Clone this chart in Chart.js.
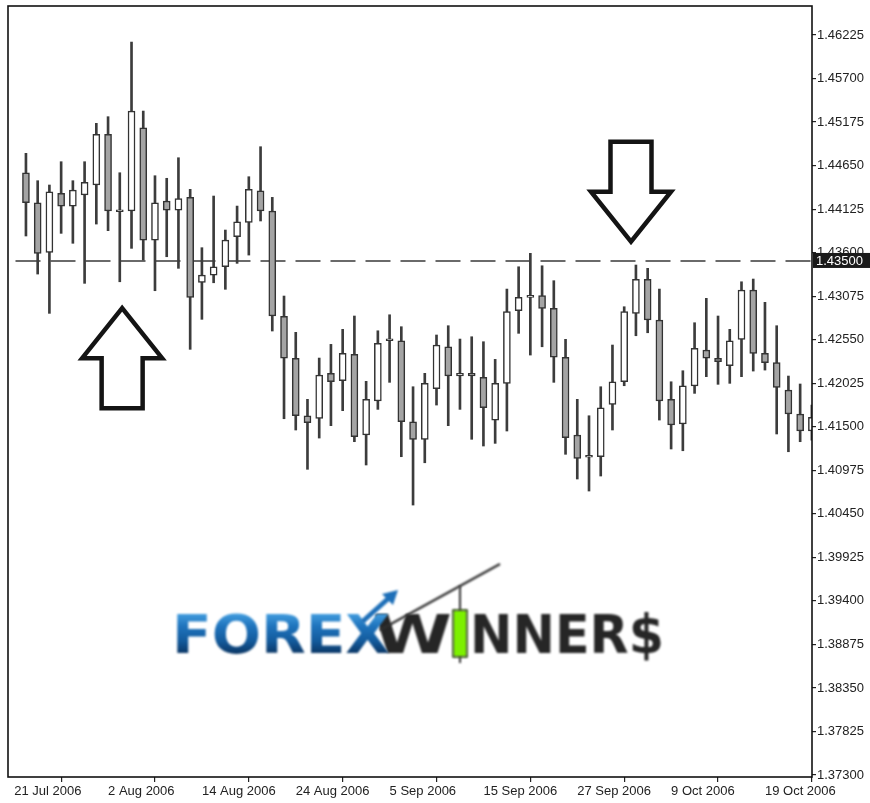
<!DOCTYPE html>
<html>
<head>
<meta charset="utf-8">
<script src="https://cdn.jsdelivr.net/npm/chart.js@4.4.1/dist/chart.umd.min.js"></script>
<style>
  html, body { margin: 0; padding: 0; background: #fff; }
</style>
</head>
<body>
<canvas id="chart" width="870" height="803"></canvas>
<script>
// trading days (first one is off the left edge, no candle drawn)
const dates = [
  "21 Jul 2006", "24 Jul 2006", "25 Jul 2006", "26 Jul 2006", "27 Jul 2006", "28 Jul 2006", "31 Jul 2006",
  "1 Aug 2006", "2 Aug 2006", "3 Aug 2006", "4 Aug 2006", "7 Aug 2006", "8 Aug 2006", "9 Aug 2006",
  "10 Aug 2006", "11 Aug 2006", "14 Aug 2006", "15 Aug 2006", "16 Aug 2006", "17 Aug 2006", "18 Aug 2006",
  "21 Aug 2006", "22 Aug 2006", "23 Aug 2006", "24 Aug 2006", "25 Aug 2006", "28 Aug 2006", "29 Aug 2006",
  "30 Aug 2006", "31 Aug 2006", "1 Sep 2006", "4 Sep 2006", "5 Sep 2006", "6 Sep 2006", "7 Sep 2006",
  "8 Sep 2006", "11 Sep 2006", "12 Sep 2006", "13 Sep 2006", "14 Sep 2006", "15 Sep 2006", "18 Sep 2006",
  "19 Sep 2006", "20 Sep 2006", "21 Sep 2006", "22 Sep 2006", "25 Sep 2006", "26 Sep 2006", "27 Sep 2006",
  "28 Sep 2006", "29 Sep 2006", "2 Oct 2006", "3 Oct 2006", "4 Oct 2006", "5 Oct 2006", "6 Oct 2006",
  "9 Oct 2006", "10 Oct 2006", "11 Oct 2006", "12 Oct 2006", "13 Oct 2006", "16 Oct 2006", "17 Oct 2006",
  "18 Oct 2006", "19 Oct 2006", "20 Oct 2006", "23 Oct 2006", "24 Oct 2006", "25 Oct 2006"
];

const opens = [null,
  1.44564, 1.44202, 1.43604, 1.44316, 1.44162, 1.44295, 1.44416, 1.45027, 1.44094, 1.44102,
  1.45107, 1.43752, 1.44223, 1.44114, 1.44267, 1.43242, 1.43330, 1.43430, 1.43792, 1.43966,
  1.44347, 1.44102, 1.42832, 1.42326, 1.41633, 1.41602, 1.42145, 1.42055, 1.42374, 1.41401,
  1.41811, 1.42538, 1.42538, 1.41561, 1.41349, 1.41959, 1.42465, 1.42112, 1.42145, 1.42096,
  1.41581, 1.42024, 1.42900, 1.43061, 1.43081, 1.42929, 1.42338, 1.41401, 1.41132, 1.41139,
  1.41771, 1.42043, 1.42868, 1.43278, 1.42788, 1.41831, 1.41533, 1.41992, 1.42426, 1.42326,
  1.42236, 1.42555, 1.43149, 1.42386, 1.42273, 1.41943, 1.41654, 1.41449
];
const highs = [null,
  1.44798, 1.44468, 1.44416, 1.44697, 1.44468, 1.44697, 1.45160, 1.45240, 1.44564, 1.46140,
  1.45308, 1.44528, 1.44497, 1.44745, 1.44364, 1.43660, 1.44283, 1.43873, 1.44162, 1.44516,
  1.44878, 1.44267, 1.43077, 1.42639, 1.41831, 1.42329, 1.42494, 1.42675, 1.42836, 1.42048,
  1.42658, 1.42851, 1.42707, 1.41983, 1.42145, 1.42607, 1.42719, 1.42558, 1.42586, 1.42526,
  1.42313, 1.43161, 1.43430, 1.43592, 1.43442, 1.43262, 1.42555, 1.41831, 1.41633, 1.41983,
  1.42486, 1.42948, 1.43451, 1.43411, 1.43161, 1.42043, 1.42176, 1.42755, 1.43049, 1.42836,
  1.42675, 1.43249, 1.43282, 1.43001, 1.42719, 1.42112, 1.42016, 1.41762
];
const lows = [null,
  1.43801, 1.43342, 1.42868, 1.43833, 1.43713, 1.43230, 1.43945, 1.43865, 1.43249, 1.43652,
  1.43511, 1.43141, 1.43551, 1.43411, 1.42434, 1.42796, 1.43237, 1.43158, 1.43471, 1.43571,
  1.43982, 1.42655, 1.41597, 1.41461, 1.40987, 1.41364, 1.41513, 1.41694, 1.41320, 1.41039,
  1.41710, 1.42036, 1.41139, 1.40556, 1.41066, 1.41762, 1.41513, 1.41710, 1.41349, 1.41268,
  1.41300, 1.41449, 1.42627, 1.42365, 1.42465, 1.42036, 1.41168, 1.40870, 1.40725, 1.40906,
  1.41461, 1.41995, 1.42598, 1.42634, 1.41581, 1.41232, 1.41211, 1.41903, 1.42104, 1.42012,
  1.42024, 1.42104, 1.42172, 1.42184, 1.41413, 1.41199, 1.41320, 1.41340
];
const closes = [null,
  1.44202, 1.43592, 1.44335, 1.44162, 1.44355, 1.44448, 1.45027, 1.44102, 1.44094, 1.45308,
  1.43752, 1.44202, 1.44114, 1.44251, 1.43061, 1.43330, 1.43430, 1.43752, 1.43973, 1.44364,
  1.44102, 1.42836, 1.42326, 1.41633, 1.41549, 1.42124, 1.42043, 1.42386, 1.41380, 1.41831,
  1.42507, 1.42538, 1.41561, 1.41349, 1.42024, 1.42486, 1.42112, 1.42145, 1.42112, 1.41730,
  1.42024, 1.42888, 1.43061, 1.43061, 1.42929, 1.42341, 1.41368, 1.41119, 1.41132, 1.41730,
  1.42043, 1.42888, 1.43278, 1.42788, 1.41811, 1.41521, 1.41995, 1.42446, 1.42326, 1.42285,
  1.42538, 1.43149, 1.42386, 1.42273, 1.41976, 1.41654, 1.41449, 1.41614
];

const xTickLabels = ["21 Jul 2006", "2 Aug 2006", "14 Aug 2006", "24 Aug 2006", "5 Sep 2006",
  "15 Sep 2006", "27 Sep 2006", "9 Oct 2006", "19 Oct 2006"];
const yTicks = [1.46225, 1.45700, 1.45175, 1.44650, 1.44125, 1.43600, 1.43075, 1.42550, 1.42025,
  1.41500, 1.40975, 1.40450, 1.39925, 1.39400, 1.38875, 1.38350, 1.37825, 1.37300];
const levelPrice = 1.43500;

// arrows anchored at their tips (bar position, price)
const upArrow = { x: 9.2, price: 1.4293 };
const downArrow = { x: 52.58, price: 1.43732 };

const bodies = [];
const wicks = [];
opens.forEach((o, i) => {
  if (o === null) return;
  bodies.push({ x: i, y: [o, closes[i]] });
  wicks.push({ x: i, y: [lows[i], highs[i]] });
});

// draws text squeezed/stretched to fit between x0 and x1, baseline at base
function fitText(ctx, text, x0, x1, base, fill) {
  const w = ctx.measureText(text).width;
  ctx.save();
  ctx.translate(x0, base);
  ctx.scale((x1 - x0) / w, 1);
  ctx.fillStyle = typeof fill === "function" ? fill(ctx) : fill;
  ctx.fillText(text, 0, 0);
  ctx.restore();
}

function drawArrow(ctx, tx, ty, dir) {
  // dir = -1 points up, 1 points down
  const headW = 40, shaftW = 20.5, headL = 50, len = 100;
  ctx.beginPath();
  ctx.moveTo(tx, ty);
  ctx.lineTo(tx - headW, ty - dir * headL);
  ctx.lineTo(tx - shaftW, ty - dir * headL);
  ctx.lineTo(tx - shaftW, ty - dir * len);
  ctx.lineTo(tx + shaftW, ty - dir * len);
  ctx.lineTo(tx + shaftW, ty - dir * headL);
  ctx.lineTo(tx + headW, ty - dir * headL);
  ctx.closePath();
  ctx.fillStyle = "#fff";
  ctx.fill();
  ctx.lineWidth = 4.5;
  ctx.lineJoin = "miter";
  ctx.strokeStyle = "#141414";
  ctx.stroke();
}

function drawLogo(ctx) {
  ctx.save();
  ctx.filter = "blur(0.8px)";
  ctx.font = "bold 54px 'DejaVu Sans'";
  ctx.textBaseline = "alphabetic";
  const base = 653;

  fitText(ctx, "W", 373, 452, base, "#262626");
  fitText(ctx, "NNER$", 470, 664, base, "#262626");

  // gradient in the text's local coords (baseline = 0)
  fitText(ctx, "FOREX", 172, 390, base, c => {
    const g = c.createLinearGradient(0, -42, 0, 1);
    g.addColorStop(0, "#4aa6e6");
    g.addColorStop(0.35, "#1f74bd");
    g.addColorStop(0.7, "#135a9c");
    g.addColorStop(1, "#0a3563");
    return g;
  });

  // little blue arrow out of the X
  ctx.strokeStyle = "#1d6fb8";
  ctx.lineWidth = 5;
  ctx.beginPath();
  ctx.moveTo(362, 622);
  ctx.lineTo(390, 597);
  ctx.stroke();
  ctx.fillStyle = "#1d6fb8";
  ctx.beginPath();
  ctx.moveTo(398, 590);
  ctx.lineTo(382, 594);
  ctx.lineTo(393, 605);
  ctx.closePath();
  ctx.fill();

  // trend line
  ctx.strokeStyle = "#303030";
  ctx.lineWidth = 2.5;
  ctx.beginPath();
  ctx.moveTo(380, 630);
  ctx.lineTo(500, 564);
  ctx.stroke();

  // green candle as the "I"
  ctx.lineWidth = 2;
  ctx.beginPath();
  ctx.moveTo(460, 586);
  ctx.lineTo(460, 663);
  ctx.stroke();
  ctx.fillStyle = "#7cf000";
  ctx.fillRect(453, 610, 14, 47);
  ctx.lineWidth = 1.5;
  ctx.strokeRect(453, 610, 14, 47);
  ctx.restore();
}

const overlay = {
  id: "overlay",
  beforeDatasetsDraw(chart) {
    const { ctx, chartArea: a, scales: { y } } = chart;
    const py = y.getPixelForValue(levelPrice);
    ctx.save();
    ctx.strokeStyle = "#3a3a3a";
    ctx.lineWidth = 1.5;
    ctx.setLineDash([25, 10]);
    ctx.lineDashOffset = 27.5;
    ctx.beginPath();
    ctx.moveTo(a.left, py);
    ctx.lineTo(a.right, py);
    ctx.stroke();
    ctx.restore();
  },
  afterDatasetsDraw(chart) {
    const { ctx, scales: { x, y } } = chart;
    ctx.save();
    drawArrow(ctx, x.getPixelForValue(upArrow.x), y.getPixelForValue(upArrow.price), -1);
    drawArrow(ctx, x.getPixelForValue(downArrow.x), y.getPixelForValue(downArrow.price), 1);
    ctx.restore();
    drawLogo(ctx);
  },
  afterDraw(chart) {
    const { ctx, chartArea: a, scales: { y } } = chart;
    ctx.save();
    ctx.strokeStyle = "#111";
    ctx.lineWidth = 1.6;
    ctx.strokeRect(a.left, a.top, a.right - a.left, a.bottom - a.top);

    // current level label on the price axis
    const py = y.getPixelForValue(levelPrice);
    ctx.fillStyle = "#1a1a1a";
    ctx.fillRect(a.right + 1, py - 8, 870 - a.right, 15);
    ctx.fillStyle = "#fff";
    ctx.font = "13px 'Liberation Sans'";
    ctx.textBaseline = "middle";
    ctx.fillText(levelPrice.toFixed(5), a.right + 4, py);
    ctx.restore();
  }
};

new Chart(document.getElementById("chart"), {
  type: "bar",
  data: {
    datasets: [
      {
        label: "body",
        data: bodies,
        order: 1,
        grouped: false,
        barThickness: 7,
        minBarLength: 2,
        borderWidth: 1.5,
        borderSkipped: false,
        borderColor: "#333",
        backgroundColor: ctx => {
          const r = ctx.raw;
          return r && r.y[1] >= r.y[0] ? "#ffffff" : "#a4a4a4";
        }
      },
      {
        label: "wick",
        data: wicks,
        order: 2,
        grouped: false,
        barThickness: 2,
        borderWidth: 0,
        backgroundColor: "#3c3c3c"
      }
    ]
  },
  options: {
    responsive: false,
    animation: false,
    layout: { padding: { left: 8, top: 6, right: 0, bottom: 0 } },
    plugins: { legend: { display: false }, tooltip: { enabled: false } },
    scales: {
      x: {
        type: "linear",
        min: -0.53,
        max: 68.01,
        offset: false,
        afterBuildTicks: scale => {
          scale.ticks = xTickLabels.map(l => ({ value: dates.indexOf(l) }));
        },
        afterFit: scale => {
          scale.height = 26;
          scale.paddingLeft = 0;
          scale.paddingRight = 0;
        },
        border: { display: false },
        grid: { drawOnChartArea: false, drawTicks: true, tickLength: 5, color: "#222", lineWidth: 1.2 },
        ticks: {
          autoSkip: false,
          maxRotation: 0,
          align: "start",
          padding: 2,
          color: "#222",
          font: { family: "'Liberation Sans'", size: 13 },
          callback: v => dates[v]
        }
      },
      y: {
        position: "right",
        min: 1.37276,
        max: 1.46575,
        afterBuildTicks: scale => {
          scale.ticks = yTicks.map(v => ({ value: v }));
        },
        afterFit: scale => {
          scale.width = 58;
          scale.paddingTop = 0;
          scale.paddingBottom = 0;
        },
        border: { display: false },
        grid: { drawOnChartArea: false, drawTicks: true, tickLength: 4, color: "#222", lineWidth: 1.2 },
        ticks: {
          padding: 1,
          color: "#222",
          font: { family: "'Liberation Sans'", size: 13 },
          callback: v => v.toFixed(5)
        }
      }
    }
  },
  plugins: [overlay]
});
</script>
</body>
</html>
